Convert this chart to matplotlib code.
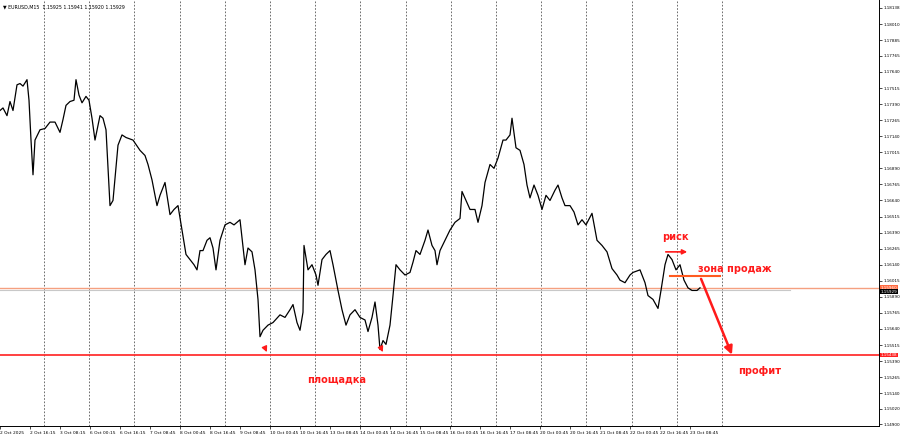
import matplotlib
matplotlib.use("Agg")
import matplotlib.pyplot as plt

bars = [0,3,7,10,13,17,20,23,27,29,31,33,35,40,45,50,55,60,63,66,70,74,76,79,82,86,89,92,95,100,103,106,110,113,118,122,126,133,140,145,148,152,157,160,165,170,174,178,182,186,190,194,197,200,203,207,210,213,216,220,225,230,234,240,245,248,252,255,258,260,263,268,273,280,285,290,293,297,300,303,304,308,312,316,318,322,326,330,333,338,342,346,350,355,360,365,368,372,375,378,380,383,386,390,393,396,400,405,410,413,416,420,425,428,432,435,437,440,445,450,455,460,462,466,470,475,478,482,485,490,494,498,503,506,510,512,516,520,524,527,530,534,538,542,546,550,555,558,562,565,570,574,578,582,586,592,597,602,607,612,617,620,625,630,633,640,645,648,653,658,661,665,668,672,676,680,684,688,692,697,700]
prices = [1.1734,1.1736,1.1730,1.1741,1.1734,1.1754,1.1755,1.1753,1.1758,1.1742,1.1711,1.1684,1.1711,1.1719,1.1720,1.1725,1.1725,1.1717,1.1727,1.1738,1.1741,1.1742,1.1758,1.1746,1.1740,1.1745,1.1742,1.1728,1.1711,1.1730,1.1728,1.1719,1.1660,1.1664,1.1707,1.1715,1.1713,1.1711,1.1703,1.1699,1.1692,1.1680,1.1660,1.1668,1.1678,1.1653,1.1657,1.1660,1.1641,1.1622,1.1618,1.1614,1.1610,1.1625,1.1625,1.1633,1.1635,1.1627,1.1610,1.1633,1.1645,1.1647,1.1645,1.1649,1.1614,1.1627,1.1624,1.1610,1.1587,1.1558,1.1563,1.1567,1.1569,1.1575,1.1573,1.1579,1.1583,1.1569,1.1563,1.1577,1.1629,1.1610,1.1614,1.1606,1.1598,1.1618,1.1622,1.1625,1.1614,1.1594,1.1579,1.1567,1.1575,1.1579,1.1573,1.1571,1.1562,1.1573,1.1585,1.1567,1.1548,1.1555,1.1552,1.1567,1.1590,1.1614,1.1610,1.1606,1.1608,1.1616,1.1625,1.1622,1.1633,1.1641,1.1629,1.1625,1.1614,1.1625,1.1633,1.1641,1.1647,1.1650,1.1671,1.1664,1.1657,1.1657,1.1647,1.1660,1.1678,1.1692,1.1689,1.1697,1.1711,1.1711,1.1715,1.1728,1.1705,1.1703,1.1692,1.1676,1.1666,1.1676,1.1668,1.1657,1.1668,1.1664,1.1672,1.1676,1.1666,1.1660,1.1660,1.1655,1.1645,1.1649,1.1645,1.1654,1.1633,1.1629,1.1624,1.1611,1.1606,1.1602,1.1600,1.1606,1.1608,1.1610,1.1600,1.1590,1.1587,1.1580,1.1594,1.1614,1.1622,1.1618,1.1610,1.1614,1.1602,1.1596,1.1594,1.1594,1.1596]

ytick_vals = [1.18138,1.18010,1.17885,1.17765,1.17640,1.17515,1.17390,1.17265,1.17140,1.17015,1.16890,1.16765,1.16640,1.16515,1.16390,1.16265,1.16140,1.16015,1.15890,1.15765,1.15640,1.15515,1.15390,1.15265,1.15140,1.15020,1.14900]
date_labels = ["2 Oct 2025","2 Oct 16:15","3 Oct 08:15","6 Oct 00:15","6 Oct 16:15","7 Oct 08:45","8 Oct 00:45","8 Oct 16:45","9 Oct 08:45","10 Oct 00:45","10 Oct 16:45","13 Oct 08:45","14 Oct 00:45","14 Oct 16:45","15 Oct 08:45","16 Oct 00:45","16 Oct 16:45","17 Oct 08:45","20 Oct 00:45","20 Oct 16:45","21 Oct 08:45","22 Oct 00:45","22 Oct 16:45","23 Oct 08:45"]
sell_level = 1.15960
current = 1.15929
target = 1.15438

fig = plt.figure(figsize=(9, 4.41), dpi=100)
ax = fig.add_axes([0, 15/441, 879/900, 426/441])
ax.set_xlim(0, 879)
ax.set_ylim(1.14885, 1.18200)

for k in range(16):
    ax.axvline(44 + 45.2*k, color="#555555", lw=0.6, ls=(0, (2, 2)), zorder=1)

ax.axhline(sell_level, color="#f5a080", lw=1.0, zorder=2)
ax.plot([0, 790], [1.15945, 1.15945], color="#c8c8c8", lw=0.8, zorder=2)
ax.axhline(target, color="#ff2020", lw=1.2, zorder=2)
ax.plot(bars, prices, color="black", lw=0.9, zorder=3)

red = "#ff1a1a"
ax.text(675, 1.1632, "риск", color=red, fontsize=7, fontweight="bold", ha="center", va="bottom")
ax.annotate("", xy=(690, 1.1624), xytext=(663, 1.1624),
            arrowprops=dict(arrowstyle="-|>", color=red, lw=1.2, mutation_scale=7))
ax.text(698, 1.1611, "зона продаж", color=red, fontsize=7, fontweight="bold", ha="left", va="center")
ax.plot([670, 720], [1.1605, 1.1605], color="#ff5a20", lw=1.5, zorder=4)
ax.annotate("", xy=(733, 1.1542), xytext=(700, 1.1605),
            arrowprops=dict(arrowstyle="-|>", color=red, lw=1.8, mutation_scale=12))
ax.text(760, 1.1531, "профит", color=red, fontsize=7, fontweight="bold", ha="center", va="center")
ax.text(337, 1.1525, "площадка", color=red, fontsize=7, fontweight="bold", ha="center", va="center")
for xa in (268, 384):
    ax.annotate("", xy=(xa, 1.1544), xytext=(xa - 4, 1.1551),
                arrowprops=dict(arrowstyle="-|>", color=red, lw=1.0, mutation_scale=8))

ax.yaxis.tick_right()
ax.set_yticks(ytick_vals)
ax.set_yticklabels([f"{v:.5f}" for v in ytick_vals], fontsize=3.0)
ax.tick_params(axis="y", length=2, width=0.5, pad=1)
ax.set_xticks([30*k for k in range(len(date_labels))])
ax.set_xticklabels(date_labels, fontsize=3.2, ha="left")
ax.tick_params(axis="x", length=2, width=0.5, pad=1.5)
for s in ax.spines.values():
    s.set_linewidth(0.7)
ax.spines["top"].set_visible(False)
ax.spines["left"].set_visible(False)

for val, fc, tc in ((sell_level, "#ff6a40", "white"), (current, "black", "white"), (target, "#ff2020", "white")):
    ax.text(1.002, val, f"{val:.5f}", transform=ax.get_yaxis_transform(), fontsize=3.0,
            color=tc, va="center", ha="left",
            bbox=dict(boxstyle="square,pad=0.1", fc=fc, ec="none"), clip_on=False, zorder=5)

fig.text(0.003, 0.99, "▼ EURUSD,M15  1.15925 1.15941 1.15920 1.15929", fontsize=3.4, va="top", ha="left")

fig.savefig("out.png", dpi=100)
